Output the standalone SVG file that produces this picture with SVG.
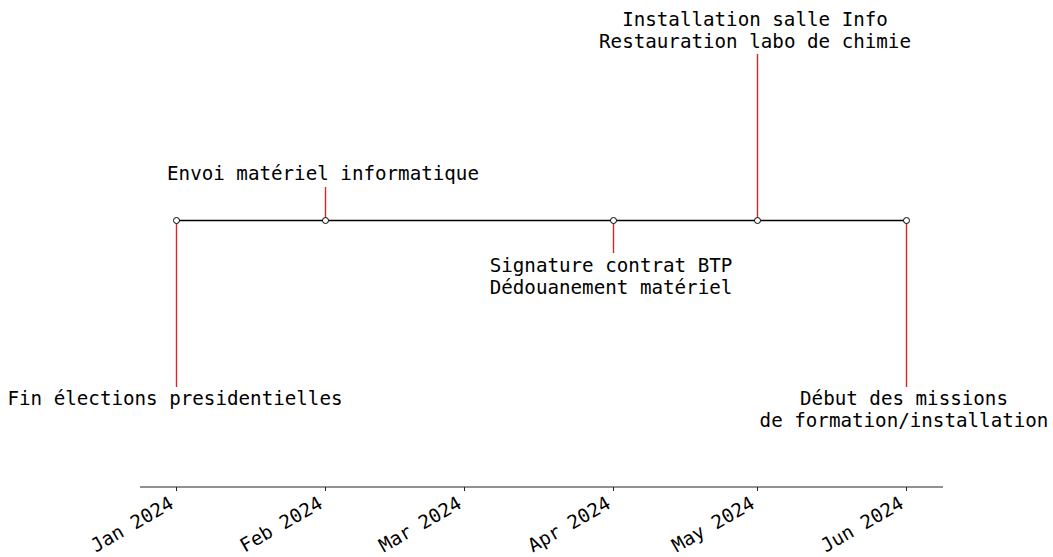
<svg xmlns="http://www.w3.org/2000/svg" width="1053" height="557" viewBox="0 0 1053 557">
<style>
.lbl{font-family:"DejaVu Sans Mono",monospace;font-size:19.2px;fill:#000;text-anchor:middle}
.tick{font-family:"DejaVu Sans Mono",monospace;font-size:19px;fill:#000;text-anchor:end}
.stem{stroke:#d62728;stroke-width:1.4}
.dot{fill:#fff;stroke:#000;stroke-width:1}
</style>
<rect width="1053" height="557" fill="#fff"/>
<g id="connectors">
<line x1="176" y1="220.5" x2="906" y2="220.5" stroke="#000" stroke-width="1.4"/>
<line class="stem" x1="176.5" y1="220" x2="176.5" y2="387"/>
<line class="stem" x1="325.5" y1="220" x2="325.5" y2="187"/>
<line class="stem" x1="613.5" y1="220" x2="613.5" y2="253"/>
<line class="stem" x1="757.5" y1="220" x2="757.5" y2="54"/>
<line class="stem" x1="906.5" y1="220" x2="906.5" y2="387"/>
</g>
<g id="axis">
<line x1="140" y1="487" x2="943" y2="487" stroke="#222" stroke-width="1"/>
<g stroke="#222" stroke-width="1">
<line x1="176.5" y1="487" x2="176.5" y2="491"/>
<line x1="325.5" y1="487" x2="325.5" y2="491"/>
<line x1="464.5" y1="487" x2="464.5" y2="491"/>
<line x1="613.5" y1="487" x2="613.5" y2="491"/>
<line x1="757.5" y1="487" x2="757.5" y2="491"/>
<line x1="906.5" y1="487" x2="906.5" y2="491"/>
</g>
<text class="tick" transform="translate(175,507) rotate(-30)">Jan 2024</text>
<text class="tick" transform="translate(324,507) rotate(-30)">Feb 2024</text>
<text class="tick" transform="translate(463,507) rotate(-30)">Mar 2024</text>
<text class="tick" transform="translate(612,507) rotate(-30)">Apr 2024</text>
<text class="tick" transform="translate(756,507) rotate(-30)">May 2024</text>
<text class="tick" transform="translate(905,507) rotate(-30)">Jun 2024</text>
</g>
<g id="n-jan">
<circle class="dot" cx="176.5" cy="220.5" r="3"/>
<text class="lbl" x="175" y="405">Fin élections presidentielles</text>
</g>
<g id="n-feb">
<circle class="dot" cx="325.5" cy="220.5" r="3"/>
<text class="lbl" x="323" y="180">Envoi matériel informatique</text>
</g>
<g id="n-apr">
<circle class="dot" cx="613.5" cy="220.5" r="3"/>
<text class="lbl" x="611" y="272">Signature contrat BTP</text>
<text class="lbl" x="611" y="294">Dédouanement matériel</text>
</g>
<g id="n-may">
<circle class="dot" cx="757.5" cy="220.5" r="3"/>
<text class="lbl" x="755" y="26">Installation salle Info</text>
<text class="lbl" x="755" y="48">Restauration labo de chimie</text>
</g>
<g id="n-jun">
<circle class="dot" cx="906.5" cy="220.5" r="3"/>
<text class="lbl" x="904" y="405">Début des missions</text>
<text class="lbl" x="904" y="427">de formation/installation</text>
</g>
</svg>
